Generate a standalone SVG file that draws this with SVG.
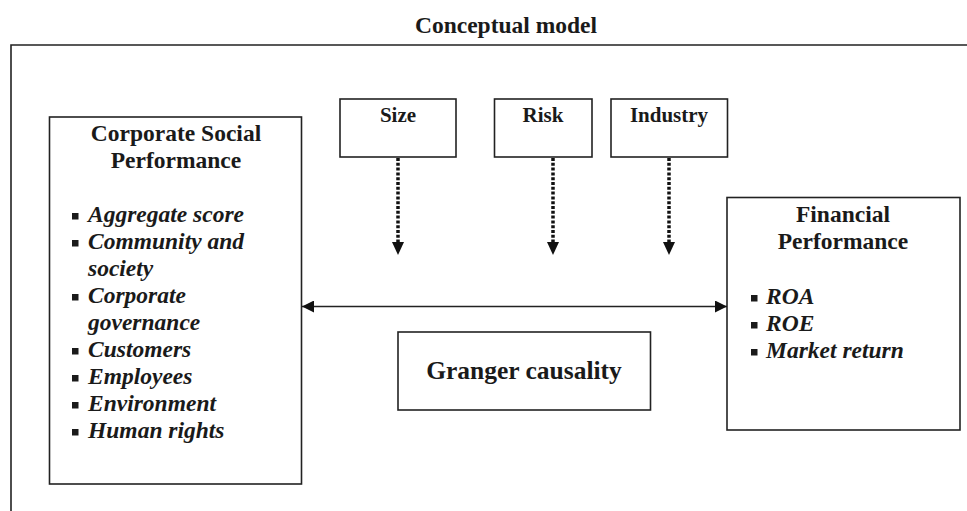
<svg xmlns="http://www.w3.org/2000/svg" width="967" height="511" viewBox="0 0 967 511">
<style>
  .box { fill: #ffffff; stroke: #222222; stroke-width: 1.6; }
  .frame { fill: none; stroke: #222222; stroke-width: 1.6; }
  .t { font-family: "Liberation Serif", "Times New Roman", serif; font-weight: bold; fill: #1a1a1a; }
  .title { font-size: 23.5px; text-anchor: middle; }
  .small { font-size: 21px; text-anchor: middle; }
  .item { font-size: 23.5px; font-style: italic; }
  .big { font-size: 25.5px; text-anchor: middle; }
  .bul { fill: #1a1a1a; }
  .dot { fill: none; stroke: #111111; stroke-width: 3.5; stroke-dasharray: 3 1.8; }
  .line { fill: none; stroke: #222222; stroke-width: 1.6; }
  .head { fill: #111111; }
</style>
<defs>
  <marker id="arrEnd" viewBox="0 0 12 12" refX="12" refY="6" markerWidth="12" markerHeight="12" markerUnits="userSpaceOnUse" orient="auto">
    <path d="M0,0 L12,6 L0,12 Z" class="head"/>
  </marker>
  <marker id="arrStart" viewBox="0 0 12 12" refX="0" refY="6" markerWidth="12" markerHeight="12" markerUnits="userSpaceOnUse" orient="auto">
    <path d="M12,0 L0,6 L12,12 Z" class="head"/>
  </marker>
</defs>

<text class="t title" x="506" y="33">Conceptual model</text>
<path class="frame" d="M11,511 V45 H967"/>

<g id="csp">
  <rect class="box" x="49.5" y="117" width="252" height="367"/>
  <text class="t title" x="176" y="141">Corporate Social</text>
  <text class="t title" x="176" y="168">Performance</text>
  <rect class="bul" x="72" y="213" width="6.5" height="6.5"/>
  <text class="t item" x="88" y="222">Aggregate score</text>
  <rect class="bul" x="72" y="240" width="6.5" height="6.5"/>
  <text class="t item" x="88" y="249">Community and</text>
  <text class="t item" x="88" y="276">society</text>
  <rect class="bul" x="72" y="294" width="6.5" height="6.5"/>
  <text class="t item" x="88" y="303">Corporate</text>
  <text class="t item" x="88" y="330">governance</text>
  <rect class="bul" x="72" y="348" width="6.5" height="6.5"/>
  <text class="t item" x="88" y="357">Customers</text>
  <rect class="bul" x="72" y="375" width="6.5" height="6.5"/>
  <text class="t item" x="88" y="384">Employees</text>
  <rect class="bul" x="72" y="402" width="6.5" height="6.5"/>
  <text class="t item" x="88" y="411">Environment</text>
  <rect class="bul" x="72" y="429" width="6.5" height="6.5"/>
  <text class="t item" x="88" y="438">Human rights</text>
</g>

<g id="size">
  <rect class="box" x="340" y="99" width="116" height="58"/>
  <text class="t small" x="398" y="122">Size</text>
</g>
<g id="risk">
  <rect class="box" x="494.5" y="99" width="97.5" height="58"/>
  <text class="t small" x="543" y="122">Risk</text>
</g>
<g id="industry">
  <rect class="box" x="611" y="99" width="116.5" height="58"/>
  <text class="t small" x="669" y="122">Industry</text>
</g>

<g id="fp">
  <rect class="box" x="727" y="197.5" width="233" height="232.5"/>
  <text class="t title" x="843" y="222">Financial</text>
  <text class="t title" x="843" y="249">Performance</text>
  <rect class="bul" x="751" y="295" width="6.5" height="6.5"/>
  <text class="t item" x="766" y="304">ROA</text>
  <rect class="bul" x="751" y="322" width="6.5" height="6.5"/>
  <text class="t item" x="766" y="331">ROE</text>
  <rect class="bul" x="751" y="349" width="6.5" height="6.5"/>
  <text class="t item" x="766" y="358">Market return</text>
</g>

<g id="granger">
  <rect class="box" x="398" y="332" width="252.5" height="78"/>
  <text class="t big" x="524" y="379">Granger causality</text>
</g>

<g id="connectors">
  <path class="dot" d="M398,158 V242"/>
  <path class="head" d="M392,242 L404,242 L398,255 Z"/>
  <path class="dot" d="M553,158 V242"/>
  <path class="head" d="M547,242 L559,242 L553,255 Z"/>
  <path class="dot" d="M669,158 V242"/>
  <path class="head" d="M663,242 L675,242 L669,255 Z"/>
  <path class="line" d="M302,306.5 H727" marker-start="url(#arrStart)" marker-end="url(#arrEnd)"/>
</g>
</svg>
